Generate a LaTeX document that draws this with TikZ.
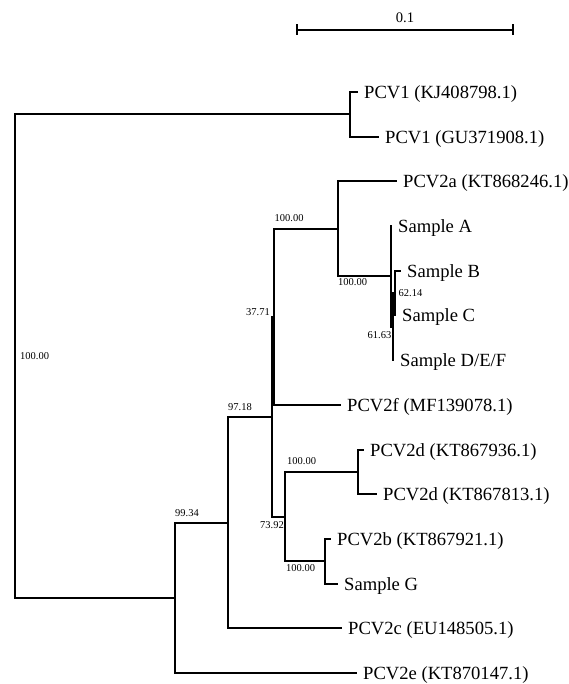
\documentclass[tikz,border=0pt]{standalone}
\usepackage{fontspec}
\setmainfont{Liberation Serif}
\usetikzlibrary{positioning}

\begin{document}
\begin{tikzpicture}[x=1pt,y=-1pt,
	branch/.style={line width=1.5pt,black},
	taxon/.style={anchor=base west,inner sep=0pt,xshift=6pt,yshift=-6.6pt,font=\fontsize{18.6}{20}\selectfont},
	boot/.style={inner sep=0pt,font=\fontsize{10.5}{12}\selectfont},
	bootup/.style={boot,anchor=south west,yshift=6.5pt},
	bootdown/.style={boot,anchor=north west,yshift=-3pt}]
	\useasboundingbox (0,0) rectangle (569,684);

	% scale bar
	\coordinate (sleft) at (297,30);
	\coordinate (smid) at (405,30);
	\coordinate (sright) at (513,30);
	\draw[branch] (sleft) -- (sright);
	\draw[branch] (sleft) ++(0,-5.5) -- ++(0,11);
	\draw[branch] (sright) ++(0,-5.5) -- ++(0,11);
	\node[inner sep=0pt,font=\fontsize{14.6}{16}\selectfont,above=7pt of smid] (scaletxt) {0.1};

	% inner nodes
	\coordinate (root) at (15,356);
	\coordinate (pcvone) at (350,114);
	\coordinate (pcvtwo) at (175,598);
	\coordinate (core) at (228,523);
	\coordinate (mid) at (272,417);
	\coordinate (upper) at (274,317);
	\coordinate (twoa) at (338,229);
	\coordinate (samp) at (391,276);
	\coordinate (sdef) at (393,327);
	\coordinate (sbc) at (395,293);
	\coordinate (low) at (285,517);
	\coordinate (twod) at (358,472);
	\coordinate (twob) at (325,561);

	% tips
	\coordinate (tKJ) at (358,92);
	\coordinate (tGU) at (379,137);
	\coordinate (tA) at (397,181);
	\coordinate (tSA) at (392,226);
	\coordinate (tSB) at (401,271);
	\coordinate (tSC) at (396,315);
	\coordinate (tSD) at (394,360);
	\coordinate (tF) at (341,405);
	\coordinate (tDa) at (364,450);
	\coordinate (tDb) at (377,494);
	\coordinate (tB) at (331,539);
	\coordinate (tSG) at (338,584);
	\coordinate (tC) at (342,628);
	\coordinate (tE) at (357,673);

	% branches
	\draw[branch] (root) |- (pcvone) (root) |- (pcvtwo);
	\draw[branch] (pcvone) |- (tKJ) (pcvone) |- (tGU);
	\draw[branch] (pcvtwo) |- (core) (pcvtwo) |- (tE);
	\draw[branch] (core) |- (mid) (core) |- (tC);
	\draw[branch] (mid) |- (upper) (mid) |- (low);
	\draw[branch] (upper) |- (twoa) (upper) |- (tF);
	\draw[branch] (twoa) |- (tA) (twoa) |- (samp);
	\draw[branch] (samp) |- (tSA) (samp) |- (sdef);
	\draw[branch] (sdef) |- (sbc) (sdef) |- (tSD);
	\draw[branch] (sbc) |- (tSB) (sbc) |- (tSC);
	\draw[branch] (low) |- (twod) (low) |- (twob);
	\draw[branch] (twod) |- (tDa) (twod) |- (tDb);
	\draw[branch] (twob) |- (tB) (twob) |- (tSG);

	% taxa
	\node[taxon] (lKJ) at (tKJ) {PCV1 (KJ408798.1)};
	\node[taxon] (lGU) at (tGU) {PCV1 (GU371908.1)};
	\node[taxon] (lA) at (tA) {PCV2a (KT868246.1)};
	\node[taxon] (lSA) at (tSA) {Sample A};
	\node[taxon] (lSB) at (tSB) {Sample B};
	\node[taxon] (lSC) at (tSC) {Sample C};
	\node[taxon] (lSD) at (tSD) {Sample D/E/F};
	\node[taxon] (lF) at (tF) {PCV2f (MF139078.1)};
	\node[taxon] (lDa) at (tDa) {PCV2d (KT867936.1)};
	\node[taxon] (lDb) at (tDb) {PCV2d (KT867813.1)};
	\node[taxon] (lB) at (tB) {PCV2b (KT867921.1)};
	\node[taxon] (lSG) at (tSG) {Sample G};
	\node[taxon] (lC) at (tC) {PCV2c (EU148505.1)};
	\node[taxon] (lE) at (tE) {PCV2e (KT870147.1)};

	% bootstrap values
	\node[boot,anchor=west,xshift=5pt] (bRoot) at (root) {100.00};
	\node[bootup] (bCore) at (pcvtwo |- core) {99.34};
	\node[bootup] (bMid) at (core |- mid) {97.18};
	\node[boot,anchor=south east,xshift=-2pt,yshift=1pt] (bUpper) at (mid |- upper) {37.71};
	\node[bootup,xshift=0.5pt,yshift=0.5pt] (bTwoa) at (upper |- twoa) {100.00};
	\node[bootdown,yshift=0.5pt] (bSamp) at (twoa |- samp) {100.00};
	\node[boot,anchor=west,xshift=3.5pt] (bSbc) at (sbc) {62.14};
	\node[boot,anchor=north east,xshift=-1.5pt,yshift=-4pt] (bSdef) at (sdef) {61.63};
	\node[boot,anchor=north east,xshift=-1pt,yshift=-4.5pt] (bLow) at (low) {73.92};
	\node[bootup,xshift=2pt,yshift=0.5pt] (bTwod) at (low |- twod) {100.00};
	\node[bootdown,xshift=1pt,yshift=-0.5pt] (bTwob) at (low |- twob) {100.00};
\end{tikzpicture}
\end{document}
